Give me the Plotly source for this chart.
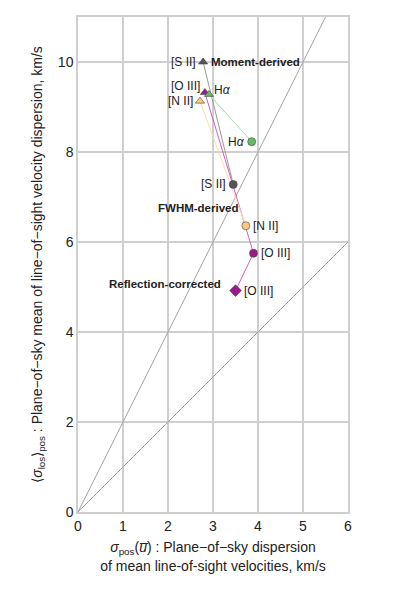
import plotly.graph_objects as go

# emission lines
species = ['[S II]', '[O III]', 'Hα', '[N II]']
colors = ['#555555', '#9b1a8a', '#66bb66', '#ffc97a']
line_colors = ['#9a9a9a', '#d060c0', '#a8dca8', '#ffdca8']

# moment-derived (triangles)
mom_x = [2.78, 2.82, 2.91, 2.71]
mom_y = [10.0, 9.32, 9.28, 9.13]
# FWHM-derived (circles)
fwhm_x = [3.45, 3.90, 3.86, 3.73]
fwhm_y = [7.28, 5.75, 8.23, 6.36]
# reflection-corrected [O III] (diamond)
refl_x = [3.50]
refl_y = [4.92]

# reference lines y = 2x and y = x
ref_x = [0, 6]
ref_slopes = [2, 1]

fig = go.Figure()

for k in ref_slopes:
    fig.add_trace(go.Scatter(x=ref_x, y=[k * v for v in ref_x], mode='lines',
                             line=dict(color='#a0a0a0', width=1), hoverinfo='skip'))

for i, s in enumerate(species):
    xs = [mom_x[i], fwhm_x[i]]
    ys = [mom_y[i], fwhm_y[i]]
    if s == '[O III]':
        xs += refl_x
        ys += refl_y
    fig.add_trace(go.Scatter(x=xs, y=ys, mode='lines',
                             line=dict(color=line_colors[i], width=1), hoverinfo='skip'))

for i, s in enumerate(species):
    fig.add_trace(go.Scatter(x=[mom_x[i]], y=[mom_y[i]], mode='markers',
                             marker=dict(symbol='triangle-up', size=8, color=colors[i],
                                         line=dict(color='#444444', width=0.6))))
    fig.add_trace(go.Scatter(x=[fwhm_x[i]], y=[fwhm_y[i]], mode='markers',
                             marker=dict(symbol='circle', size=8, color=colors[i],
                                         line=dict(color='#444444', width=0.6))))
fig.add_trace(go.Scatter(x=refl_x, y=refl_y, mode='markers',
                         marker=dict(symbol='diamond', size=9, color=colors[1],
                                     line=dict(color='#444444', width=0.6))))

lab = dict(showarrow=False, font=dict(size=12, color='#222222'), yanchor='middle')
ann = [
    dict(x=mom_x[0], y=mom_y[0], text='[S II]', xanchor='right', xshift=-5, **lab),
    dict(x=mom_x[1], y=mom_y[1], text='[O III]', xanchor='right', xshift=-3, yshift=7, **lab),
    dict(x=mom_x[2], y=mom_y[2], text='H<i>α</i>', xanchor='left', xshift=3, yshift=4, **lab),
    dict(x=mom_x[3], y=mom_y[3], text='[N II]', xanchor='right', xshift=-5, **lab),
    dict(x=fwhm_x[2], y=fwhm_y[2], text='H<i>α</i>', xanchor='right', xshift=-5, **lab),
    dict(x=fwhm_x[0], y=fwhm_y[0], text='[S II]', xanchor='right', xshift=-5, **lab),
    dict(x=fwhm_x[3], y=fwhm_y[3], text='[N II]', xanchor='left', xshift=5, **lab),
    dict(x=fwhm_x[1], y=fwhm_y[1], text='[O III]', xanchor='left', xshift=5, **lab),
    dict(x=refl_x[0], y=refl_y[0], text='[O III]', xanchor='left', xshift=6, **lab),
]
bold = dict(showarrow=False, font=dict(size=11.5, color='#222222'), yanchor='middle')
ann += [
    dict(x=2.92, y=10.0, text='<b>Moment-derived</b>', xanchor='left', **bold),
    dict(x=3.62, y=6.76, text='<b>FWHM-derived</b>', xanchor='right', **bold),
    dict(x=3.22, y=5.07, text='<b>Reflection-corrected</b>', xanchor='right', **bold),
]

grid = '#cfcfcf'
fig.update_layout(
    template='none',
    width=399, height=598,
    margin=dict(l=78, r=51, t=17, b=86, autoexpand=False),
    plot_bgcolor='white', paper_bgcolor='white',
    showlegend=False,
    font=dict(family='Liberation Sans, Arial, sans-serif', size=12, color='#222222'),
    annotations=ann,
    xaxis=dict(range=[0, 6], tickmode='linear', tick0=0, dtick=1,
               showgrid=True, gridcolor=grid, gridwidth=1.5,
               zeroline=False, showline=True, linecolor=grid, linewidth=1.5, mirror=True,
               ticks='', tickfont=dict(size=14), automargin=False,
               title=dict(text='<i>σ</i><sub>pos</sub>(<i>u̅</i>) : Plane−of−sky dispersion<br>of mean line-of-sight velocities, km/s',
                          font=dict(size=14), standoff=10)),
    yaxis=dict(range=[0, 11], tickmode='linear', tick0=0, dtick=2,
               showgrid=True, gridcolor=grid, gridwidth=1.5,
               zeroline=False, showline=True, linecolor=grid, linewidth=1.5, mirror=True,
               ticks='', tickfont=dict(size=14), automargin=False,
               title=dict(text='⟨<i>σ</i><sub>los</sub>⟩<sub>pos</sub> : Plane−of−sky mean of line−of−sight velocity dispersion, km/s',
                          font=dict(size=14), standoff=12)),
)

# page has a default 8px body margin; remove it
fig.write_html('out.html', config={'displayModeBar': False},
               post_script="document.body.style.margin='0';")
